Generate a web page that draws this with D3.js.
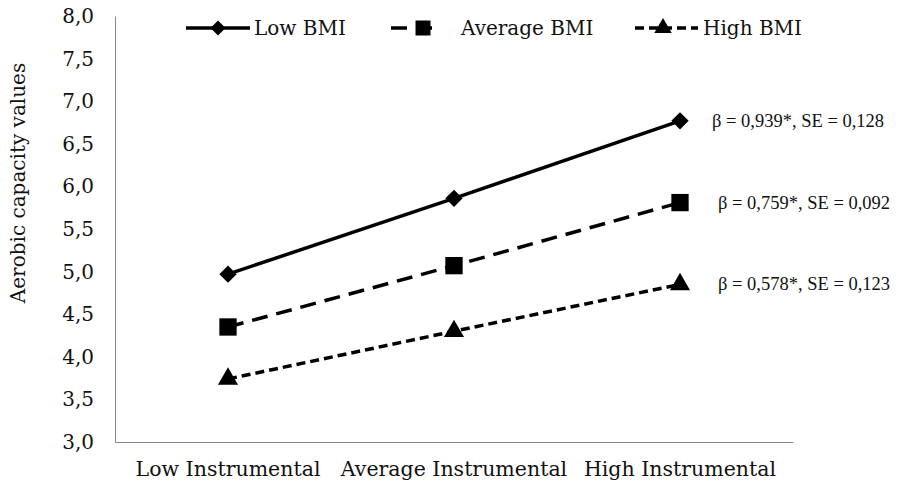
<!DOCTYPE html>
<html>
<head>
<meta charset="utf-8">
<script src="https://cdn.jsdelivr.net/npm/d3@7"></script>
<style>
  body { margin: 0; background: #fff; }
  text { font-family: "Liberation Serif", serif; fill: #111; }
  .cam { font-family: "DejaVu Serif", serif; }
</style>
</head>
<body>
<div id="chart"></div>
<script>
const categories = ["Low Instrumental", "Average Instrumental", "High Instrumental"];
const lowBMI = [4.97, 5.86, 6.77];
const averageBMI = [4.35, 5.07, 5.81];
const highBMI = [3.74, 4.30, 4.85];
const seriesNames = ["Low BMI", "Average BMI", "High BMI"];
const annotations = ["β = 0,939*, SE = 0,128", "β = 0,759*, SE = 0,092", "β = 0,578*, SE = 0,123"];
const yTicks = [3, 3.5, 4, 4.5, 5, 5.5, 6, 6.5, 7, 7.5, 8];

const width = 902;
const height = 490;
const marginLeft = 115;
const marginTop = 16;
const plotRight = 793;
const plotBottom = 442;

const svg = d3.select("#chart")
  .append("svg")
  .attr("width", width)
  .attr("height", height);

const x = d3.scaleBand()
  .domain(categories)
  .range([marginLeft, plotRight]);

const y = d3.scaleLinear()
  .domain([3, 8])
  .range([plotBottom, marginTop]);

// axes
const yAxis = svg.append("g")
  .attr("transform", "translate(" + marginLeft + ",0)")
  .call(d3.axisLeft(y).tickValues(yTicks).tickSize(0).tickPadding(21)
    .tickFormat(d => d3.format(".1f")(d).replace(".", ",")));
yAxis.select(".domain").attr("stroke", "#888").attr("stroke-width", 1);
yAxis.selectAll("text").attr("class", "cam").attr("font-size", 20).attr("font-family", null).attr("fill", "#222");

const xAxis = svg.append("g")
  .attr("transform", "translate(0," + plotBottom + ")")
  .call(d3.axisBottom(x).tickSize(0).tickPadding(19));
xAxis.select(".domain").attr("stroke", "#888").attr("stroke-width", 1);
xAxis.selectAll("text").attr("class", "cam").attr("font-size", 20.5).attr("font-family", null).attr("fill", "#222");

svg.append("text")
  .attr("class", "cam")
  .attr("transform", "translate(25,183) rotate(-90)")
  .attr("text-anchor", "middle")
  .attr("font-size", 20)
  .text("Aerobic capacity values");

const series = [
  { name: seriesNames[0], values: lowBMI, dash: null, shape: d3.symbolSquare, size: 150, rot: 45 },
  { name: seriesNames[1], values: averageBMI, dash: "16,9", shape: d3.symbolSquare, size: 300, rot: 0 },
  { name: seriesNames[2], values: highBMI, dash: "9,5", shape: d3.symbolTriangle, size: 175, rot: 0 }
];

const line = d3.line()
  .x((d, i) => x(categories[i]) + x.bandwidth() / 2)
  .y(d => y(d));

series.forEach((s, k) => {
  svg.append("path")
    .attr("d", line(s.values))
    .attr("fill", "none")
    .attr("stroke", "#000")
    .attr("stroke-width", 3.5)
    .attr("stroke-dasharray", s.dash);

  svg.selectAll(".pt" + k)
    .data(s.values)
    .enter()
    .append("path")
    .attr("d", d3.symbol().type(s.shape).size(s.size))
    .attr("transform", (d, i) => "translate(" + (x(categories[i]) + x.bandwidth() / 2) + "," + y(d) + ") rotate(" + s.rot + ")")
    .attr("fill", "#000");

  const last = s.values[s.values.length - 1];
  svg.append("text")
    .attr("x", x(categories[2]) + x.bandwidth() / 2 + (k === 0 ? 32 : 38))
    .attr("y", y(last) + 6)
    .attr("font-size", 18.5)
    .text(annotations[k]);
});

// legend
const legendItems = [
  { x0: 186, x1: 250, mx: 218, tx: 254 },
  { x0: 391, x1: 440, mx: 423, tx: 461 },
  { x0: 635, x1: 698, mx: 663, tx: 703 }
];
const legendY = 28;
series.forEach((s, k) => {
  const li = legendItems[k];
  svg.append("line")
    .attr("x1", li.x0).attr("x2", li.x1)
    .attr("y1", legendY).attr("y2", legendY)
    .attr("stroke", "#000")
    .attr("stroke-width", 3.5)
    .attr("stroke-dasharray", s.dash);
  svg.append("path")
    .attr("d", d3.symbol().type(s.shape).size(s.size * 0.75))
    .attr("transform", "translate(" + li.mx + "," + legendY + ") rotate(" + s.rot + ")")
    .attr("fill", "#000");
  svg.append("text")
    .attr("class", "cam")
    .attr("x", li.tx)
    .attr("y", legendY + 7)
    .attr("font-size", 20)
    .text(s.name);
});
</script>
</body>
</html>
